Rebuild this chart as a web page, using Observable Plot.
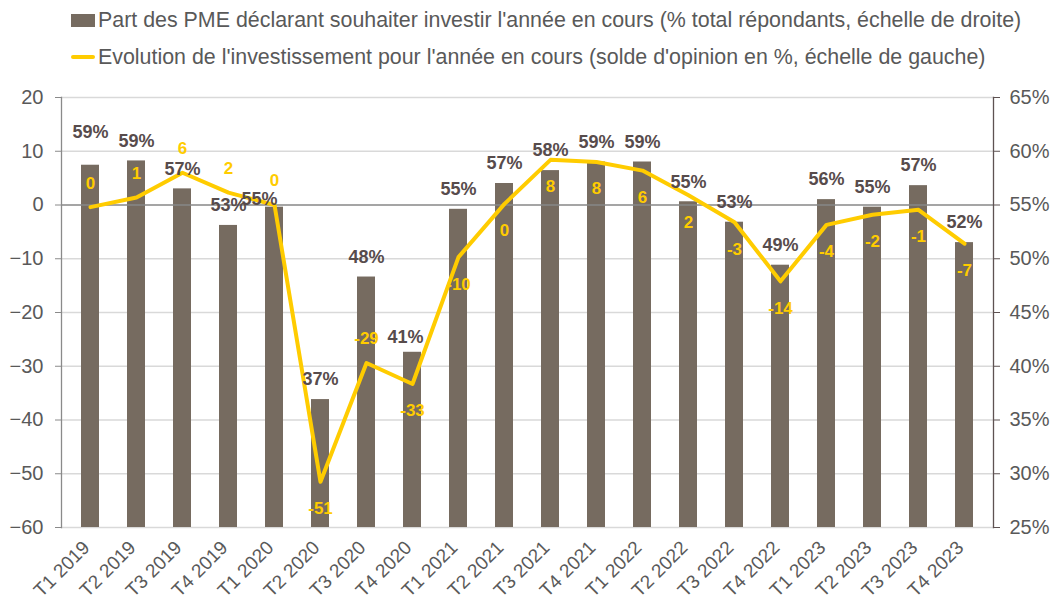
<!DOCTYPE html>
<html><head><meta charset="utf-8">
<script src="https://cdn.jsdelivr.net/npm/d3@7"></script>
<script src="https://cdn.jsdelivr.net/npm/@observablehq/plot@0.6"></script>
<style>
body{margin:0;background:#fff;font-family:"Liberation Sans",Arial,sans-serif;}
#wrap{position:relative;width:1056px;height:608px;overflow:hidden;}
#legend{position:absolute;left:0;top:0;width:1056px;height:80px;color:#595959;font-size:21.4px;}
.row{position:absolute;left:71px;display:flex;align-items:center;white-space:nowrap;height:26px;}
.sw{display:inline-block;width:24px;margin-right:3px;}
#chart{position:absolute;left:0;top:80px;}
</style>
</head><body>
<div id="wrap">
  <div id="legend"></div>
  <div id="chart"></div>
</div>
<script>
const categories = ["T1 2019","T2 2019","T3 2019","T4 2019","T1 2020","T2 2020","T3 2020","T4 2020","T1 2021","T2 2021","T3 2021","T4 2021","T1 2022","T2 2022","T3 2022","T4 2022","T1 2023","T2 2023","T3 2023","T4 2023"];
// Part des PME souhaitant investir (% , échelle de droite)
const shareValues = [58.7,59.1,56.5,53.1,54.8,36.9,48.3,41.3,54.6,57.0,58.2,59.0,59.0,55.3,53.4,49.4,55.5,54.8,56.8,51.5];
// Solde d'opinion (%, échelle de gauche)
const balanceValues = [-0.4,1.4,6.0,2.3,0.0,-51.5,-29.4,-33.3,-9.7,0.2,8.4,8.0,6.4,1.8,-3.2,-14.2,-3.7,-1.8,-0.9,-7.2];
const leftTicks = [-60,-50,-40,-30,-20,-10,0,10,20];
const rightTicks = [25,30,35,40,45,50,55,60,65];
const seriesNames = [
  "Part des PME déclarant souhaiter investir l'année en cours (% total répondants, échelle de droite)",
  "Evolution de l'investissement pour l'année en cours (solde d'opinion en %, échelle de gauche)"
];

const BAR = "#766B60", LINE = "#FFCC00", TEXT = "#595959", LABEL = "#574c4c";

// legend
const lg = document.getElementById("legend");
lg.innerHTML = `
<div class="row" style="top:7px"><span class="sw" style="height:13px;background:${BAR}"></span>${seriesNames[0]}</div>
<div class="row" style="top:44px"><span class="sw" style="height:4px;background:${LINE};border-radius:2px"></span>${seriesNames[1]}</div>`;

const toLeft = d3.scaleLinear().domain([rightTicks[0], rightTicks[rightTicks.length-1]]).range([leftTicks[0], leftTicks[leftTicks.length-1]]);
const data = categories.map((c,i)=>({cat:c, i, share:shareValues[i], shareY:toLeft(shareValues[i]), bal:balanceValues[i]}));

// label placement (layout only)
const lineAbove = new Set([0,1,2,3,4,6]);
const barSpecial = {0:{dy:-33,dx:0}, 4:{dy:-8,dx:-15}, 7:{dy:-15,dx:-7}};
const fmtShare = d => Math.round(d.share) + "%";
const fmtBal = d => String(Math.round(d.bal) === 0 ? 0 : Math.round(d.bal));

const barLabelMarks = [
  Plot.text(data.filter(d=>!(d.i in barSpecial)), {x:"cat", y:"shareY", text:fmtShare, dy:-20, fontWeight:"bold", fill:LABEL, fontSize:18})
].concat(Object.entries(barSpecial).map(([k,o]) =>
  Plot.text(data.filter(d=>d.i===+k), {x:"cat", y:"shareY", text:fmtShare, dy:o.dy, dx:o.dx, fontWeight:"bold", fill:LABEL, fontSize:18})));

const chart = Plot.plot({
  width:1056, height:528,
  marginTop:17, marginBottom:81, marginLeft:61, marginRight:63,
  style:{fontFamily:"'Liberation Sans', Arial, sans-serif", fontSize:"20px", color:TEXT, background:"transparent", overflow:"visible"},
  x:{domain:categories, paddingInner:0.6, paddingOuter:0.3, axis:null},
  y:{domain:[leftTicks[0], leftTicks[leftTicks.length-1]], axis:null},
  marks:[
    Plot.ruleY(leftTicks.filter(d=>d!==0), {stroke:"#d9d9d9", strokeWidth:1.3}),
    Plot.barY(data, {x:"cat", y1:leftTicks[0], y2:"shareY", fill:BAR}),
    Plot.ruleY([0], {stroke:"#878787", strokeWidth:1.3}),
    Plot.frame({anchor:"left", stroke:"#8a8a8a", strokeWidth:1.3}),
    Plot.frame({anchor:"right", stroke:"#5e5252", strokeWidth:1.3}),
    Plot.axisY(leftTicks, {anchor:"left", tickSize:6, tickPadding:12, stroke:"#8a8a8a", fontSize:20}),
    Plot.axisY(rightTicks.map(toLeft), {anchor:"right", tickSize:6, tickPadding:10, stroke:"#5e5252", fontSize:20, tickFormat:d => Math.round(toLeft.invert(d)) + "%"}),
    Plot.axisX({tickRotate:-45, tickSize:0, tickPadding:12, fontSize:19, label:null, dx:-4, dy:5}),
    Plot.line(data, {x:"cat", y:"bal", stroke:LINE, strokeWidth:4, strokeLinejoin:"round"}),
    ...barLabelMarks,
    Plot.text(data.filter(d=>lineAbove.has(d.i)), {x:"cat", y:"bal", text:fmtBal, dy:-24, fontWeight:"bold", fill:LINE, fontSize:17}),
    Plot.text(data.filter(d=>!lineAbove.has(d.i)), {x:"cat", y:"bal", text:fmtBal, dy:27, fontWeight:"bold", fill:LINE, fontSize:17})
  ]
});
document.getElementById("chart").appendChild(chart);
</script>
</body></html>
